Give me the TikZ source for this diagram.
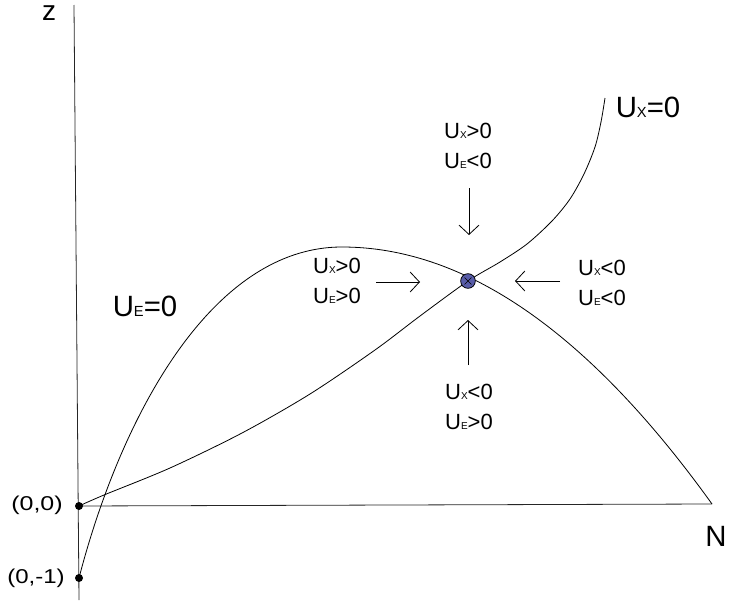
\documentclass[tikz,border=0pt]{standalone}
\usepackage{fontspec}
\setmainfont{Liberation Sans}
\usetikzlibrary{arrows.meta}
\newcommand{\Usub}[1]{U{\fontsize{7.5}{8}\selectfont #1}}
\tikzset{
  curve/.style={line width=0.6pt},
  axis/.style={line width=0.6pt, black!85},
  arr/.style={line width=0.6pt, -{Straight Barb[length=7pt,width=15pt,line width=0.6pt]}},
  lbl/.style={inner sep=0pt, align=center, font=\fontsize{16.5}{22.5}\selectfont},
  biglbl/.style={inner sep=0pt, font=\fontsize{22}{24}\selectfont},
  coordlbl/.style={inner sep=0pt, font=\fontsize{15}{16}\selectfont},
  dot/.style={circle, fill=black, inner sep=0pt, minimum size=6pt},
}
\begin{document}
\begin{tikzpicture}[x=0.75pt, y=-0.75pt]
\useasboundingbox (0,0) rectangle (729,603);
% axes
\coordinate (ztop) at (74,5);
\coordinate (zbot) at (79,600);
\coordinate (O) at (79,506);
\coordinate (M) at (79,578);
\coordinate (Nend) at (712,504);
\coordinate (E) at (468,281);
\coordinate (peak) at (342,247);
\draw[axis] (ztop) -- (zbot);
\draw[axis] (O) -- (Nend);
% U_X = 0 curve
\draw[curve] plot[smooth, tension=0.5] coordinates {(79,506) (104,495) (170,468) (242,433) (310,394) (375,350) (420,316) (468,281) (500,262) (527,244) (552,221) (570,199) (584,174) (595,147) (601,122) (605,98)};
% U_E = 0 curve
\draw[curve] (M) .. controls (120,420) and (210,247) .. (peak)
  .. controls (465.3,247) and (588.7,332.3) .. (Nend);
% points
\node[dot] (p0) at (O) {};
\node[dot] (p1) at (M) {};
% equilibrium
\node[circle, draw=black, line width=0.6pt, fill={rgb,255:red,88;green,92;blue,168}, minimum size=11pt, inner sep=0pt] (eq) at (E) {};
\draw[line width=0.4pt] ([shift={(-3.4,-3.4)}]E) -- ([shift={(3.4,3.4)}]E);
\draw[line width=0.4pt] ([shift={(-3.4,3.4)}]E) -- ([shift={(3.4,-3.4)}]E);
% arrows
\coordinate (a1s) at (469,188); \coordinate (a1e) at (469,235);
\coordinate (a2s) at (376,282); \coordinate (a2e) at (420,282);
\coordinate (a3s) at (560,281); \coordinate (a3e) at (515,281);
\coordinate (a4s) at (468,365); \coordinate (a4e) at (468,320);
\draw[arr] (a1s) -- (a1e);
\draw[arr] (a2s) -- (a2e);
\draw[arr] (a3s) -- (a3e);
\draw[arr] (a4s) -- (a4e);
% labels
\node[lbl] (lA) at (468,146) {\Usub{X}>0\\\Usub{E}<0};
\node[lbl] (lB) at (602,283) {\Usub{X}<0\\\Usub{E}<0};
\node[lbl] (lC) at (337,281) {\Usub{X}>0\\\Usub{E}>0};
\node[lbl] (lD) at (469,407) {\Usub{X}<0\\\Usub{E}>0};
\node[biglbl] (lUX) at (648,107) {U{\fontsize{11}{12}\selectfont X}=0};
\node[biglbl] (lUE) at (145,306) {U{\fontsize{11}{12}\selectfont E}=0};
\node[inner sep=0pt, font=\fontsize{21}{22}\selectfont] (lz) at (49,13) {z};
\node[biglbl] (lN) at (716,536) {N};
\node[coordlbl] (l00) at (37,505) {\scalebox{1.25}[1]{(0,0)}};
\node[coordlbl] (l01) at (36,578) {\scalebox{1.2}[1]{(0,-1)}};
\end{tikzpicture}
\end{document}
